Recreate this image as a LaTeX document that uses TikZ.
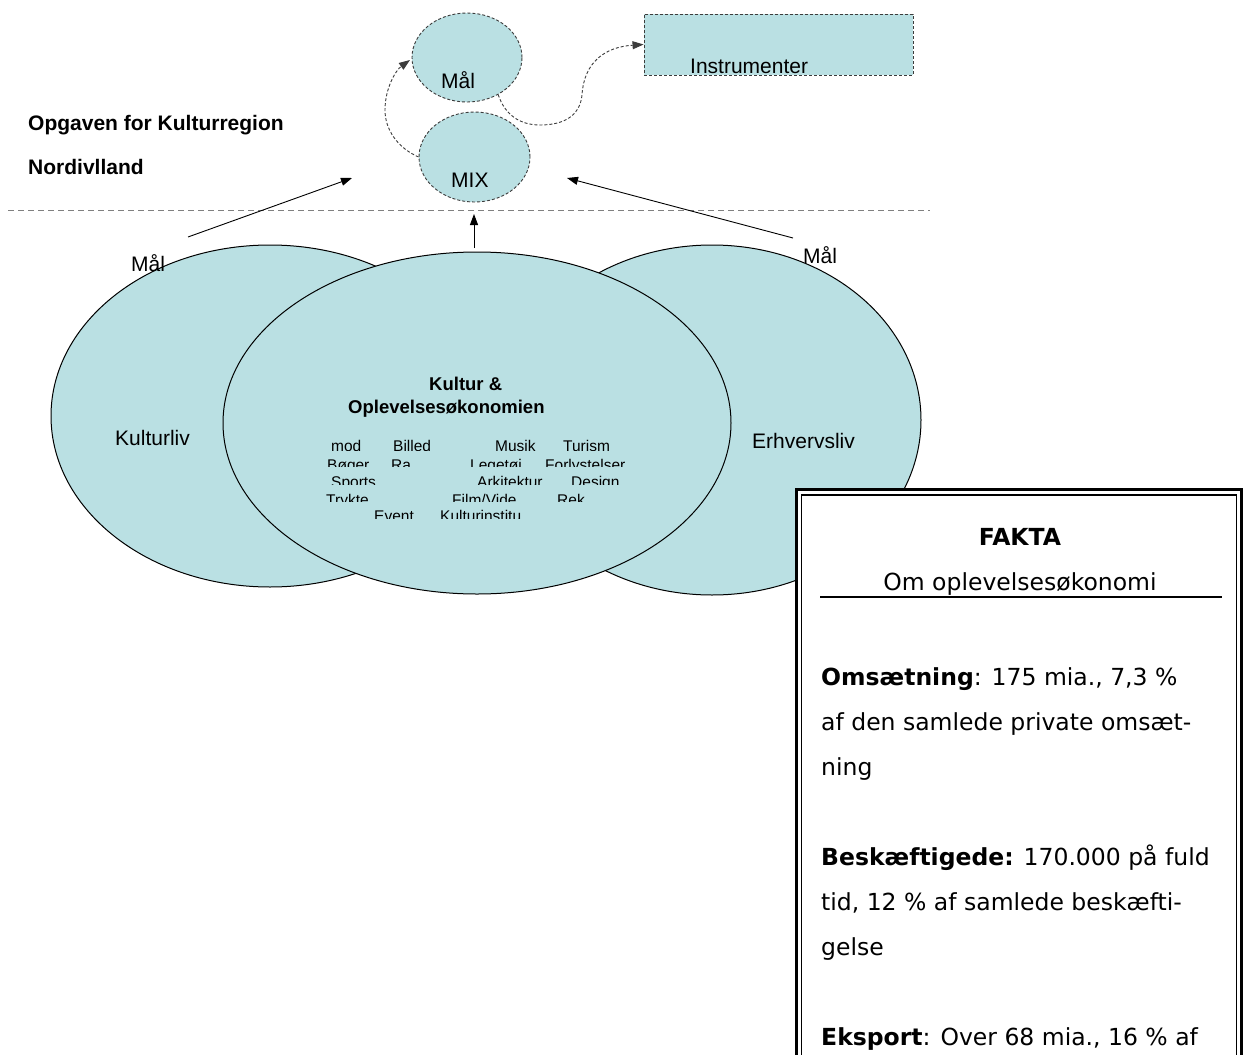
\documentclass[tikz,border=0pt]{standalone}
\usepackage{fontspec}
\setmainfont{Liberation Sans}
\newfontfamily\verd{DejaVu Sans}
\usetikzlibrary{arrows.meta,shapes.geometric}
\definecolor{ltblue}{RGB}{186,224,227}
\definecolor{dashgray}{RGB}{60,60,60}
\begin{document}
\begin{tikzpicture}[x=1pt,y=-1pt,
  lbl/.style={font=\fontsize{21}{25}\selectfont, inner sep=0pt, anchor=base west},
  blbl/.style={font=\bfseries\fontsize{21}{25}\selectfont, inner sep=0pt, anchor=base west},
  klbl/.style={font=\bfseries\fontsize{18.5}{22}\selectfont, inner sep=0pt, anchor=base west},
  wrd/.style={font=\fontsize{15.5}{18}\selectfont, inner sep=0pt, anchor=base west},
  bigoval/.style={ellipse, draw=black, fill=ltblue, line width=1pt, inner sep=0pt},
  dashoval/.style={ellipse, draw=dashgray, fill=ltblue, line width=0.9pt, dash pattern=on 3pt off 2pt, inner sep=0pt},
  dashbox/.style={rectangle, draw=dashgray, fill=ltblue, line width=0.9pt, dash pattern=on 3pt off 2pt, inner sep=0pt},
  tip/.style={-{Triangle[length=11pt,width=8pt]}, line width=0.9pt},
  dtip/.style={-{Triangle[length=11pt,width=8pt]}, line width=0.9pt, dash pattern=on 3pt off 2pt, draw=dashgray},
  ftxt/.style={font=\verd\fontsize{23.5}{28}\selectfont, inner sep=0pt, anchor=base west},
]
\clip (0,0) rectangle (1243,1055);
\fill[white] (0,0) rectangle (1243,1055);

% separator
\draw[gray, line width=1pt, dash pattern=on 6pt off 4pt] (8,210) -- (930,210);

% big ovals
\node[bigoval, minimum width=438pt, minimum height=342pt] (kl) at (270,416) {};
\node[bigoval, minimum width=418pt, minimum height=350pt] (er) at (712,420) {};
\node[bigoval, minimum width=508pt, minimum height=342pt] (ko) at (477,423) {};

% top ovals and box
\node[dashoval, minimum width=110pt, minimum height=89pt] (mal) at (467,57.5) {};
\node[dashoval, minimum width=111pt, minimum height=90pt] (mix) at (474.5,157) {};
\node[dashbox, minimum width=269pt, minimum height=61pt] (inst) at (778.5,44.5) {};

\node[lbl] (maltxt) at (441,88) {Mål};
\node[lbl] (mixtxt) at (451,187) {MIX};
\node[lbl] (insttxt) at (690,73) {Instrumenter};

% dashed curved arrows
\coordinate (malin) at (410,60);
\draw[dtip] (mix.west) .. controls (398,148) and (385,130) .. (385,110)
   .. controls (385,88) and (396,70) .. (malin);
\draw[dtip] (mal.-50) .. controls (505,115) and (520,125) .. (540,125)
   .. controls (565,125) and (580,115) .. (582,95)
   .. controls (584,62) and (605,47) .. (inst.west);

% solid arrows
\coordinate (la0) at (188,237);
\coordinate (la1) at (352,178);
\coordinate (ra0) at (793,238);
\coordinate (ra1) at (567,178);
\coordinate (ca0) at (474,248);
\coordinate (ca1) at (474,214);
\draw[tip] (la0) -- (la1);
\draw[tip] (ra0) -- (ra1);
\draw[tip] (ca0) -- (ca1);

% title
\node[blbl] (t1) at (28,130) {Opgaven for Kulturregion};
\node[blbl] (t2) at (28,174) {Nordivlland};

% labels
\node[lbl] (ml) at (131,271) {Mål};
\node[lbl] (mr) at (803,263) {Mål};
\node[lbl] (kltxt) at (115,445) {Kulturliv};
\node[lbl] (ertxt) at (752,448) {Erhvervsliv};
\node[klbl] (k1) at (429,390) {Kultur \&};
\node[klbl] (k2) at (348,413) {Oplevelsesøkonomien};

% clipped small words
\begin{scope}
\clip (300,430) rectangle (660,450);
\node[wrd] (w1) at (331,451) {mod};
\node[wrd] (w2) at (393,451) {Billed};
\node[wrd] (w3) at (495,451) {Musik};
\node[wrd] (w4) at (563,451) {Turism};
\end{scope}
\begin{scope}
\clip (300,452) rectangle (660,466.7);
\node[wrd] (w5) at (327,470.4) {Bøger};
\node[wrd] (w6) at (391,470.4) {Ra};
\node[wrd] (w7) at (470,470.4) {Legetøj};
\node[wrd] (w8) at (545,470.4) {Forlystelser};
\end{scope}
\begin{scope}
\clip (300,470) rectangle (660,484);
\node[wrd] (w9) at (331,487.8) {Sports};
\node[wrd] (w10) at (477,487.8) {Arkitektur};
\node[wrd] (w11) at (571,487.8) {Design};
\end{scope}
\begin{scope}
\clip (300,487) rectangle (660,501.7);
\node[wrd] (w12) at (326,505.1) {Trykte};
\node[wrd] (w13) at (452,505.1) {Film/Vide};
\node[wrd] (w14) at (557,505.1) {Rek};
\end{scope}
\begin{scope}
\clip (300,504) rectangle (660,518.3);
\node[wrd] (w15) at (374,521.8) {Event};
\node[wrd] (w16) at (440,521.8) {Kulturinstitu};
\end{scope}

% FAKTA box
\draw[fill=white, line width=3pt] (796.5,489.5) rectangle (1241.5,1070);
\draw[line width=1.3pt] (801.5,495) rectangle (1236.5,1070);
\node[ftxt, anchor=base] (fk) at (1020,545) {\bfseries FAKTA};
\node[ftxt, anchor=base] (om) at (1020,590) {Om oplevelsesøkonomi};
\draw[line width=1.5pt] (820,597) -- (1222,597);
\node[ftxt] (f1) at (821,685) {\textbf{Omsætning}: 175 mia., 7,3 \%};
\node[ftxt] (f2) at (821,730) {af den samlede private omsæt-};
\node[ftxt] (f3) at (821,775) {ning};
\node[ftxt] (f4) at (821,865) {\textbf{Beskæftigede:} 170.000 på fuld};
\node[ftxt] (f5) at (821,910) {tid, 12 \% af samlede beskæfti-};
\node[ftxt] (f6) at (821,955) {gelse};
\node[ftxt] (f7) at (821,1045) {\textbf{Eksport}: Over 68 mia., 16 \% af};
\end{tikzpicture}
\end{document}
